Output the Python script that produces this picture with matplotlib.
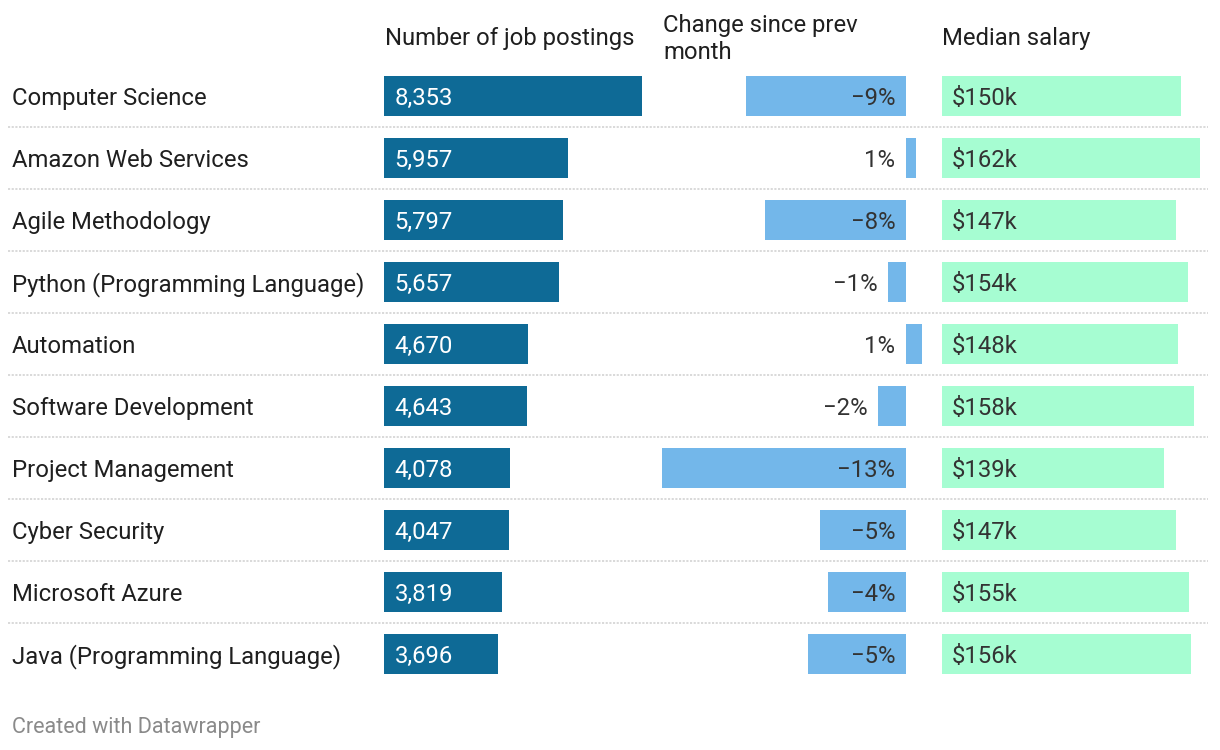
import matplotlib.pyplot as plt

plt.rcParams['font.family'] = ['Roboto', 'DejaVu Sans']

skills = ["Computer Science", "Amazon Web Services", "Agile Methodology",
          "Python (Programming Language)", "Automation", "Software Development",
          "Project Management", "Cyber Security", "Microsoft Azure",
          "Java (Programming Language)"]
postings = [8353, 5957, 5797, 5657, 4670, 4643, 4078, 4047, 3819, 3696]
# change since previous month, %, and shown labels
change = [-8.65, 0.55, -7.6, -0.97, 0.86, -1.5, -13.2, -4.65, -4.2, -5.3]
change_labels = ["−9%", "1%", "−8%", "−1%", "1%", "−2%", "−13%", "−5%", "−4%", "−5%"]
salary = [150, 162, 147, 154, 148, 158, 139, 147, 155, 156]

W, H = 1220, 750
dark_blue = "#0e6a96"
light_blue = "#73b7ea"
mint = "#a6fdd2"
text_col = "#1f1f1f"
fs = 17.2
dy = -2  # nudge labels down a bit (points)

fig = plt.figure(figsize=(W / 100, H / 100), dpi=100)

n = len(skills)
rows = list(range(n))
top_px, bot_px = 65, 685
bottom = (H - bot_px) / H
height = (bot_px - top_px) / H
bar_h = 40 / 62


def col_axes(left_px, width_px):
    ax = fig.add_axes([left_px / W, bottom, width_px / W, height])
    ax.set_ylim(n - 0.5, -0.5)
    ax.axis("off")
    return ax


# background: row labels and dotted separators
bg = col_axes(0, W)
bg.set_xlim(0, W)
bg.set_zorder(0)
for i in rows[:-1]:
    bg.axhline(i + 0.5, xmin=8 / W, xmax=1208 / W, color="#cfcfcf",
               lw=1.1, linestyle=(0, (1.4, 1.0)))
for i, s in enumerate(skills):
    bg.annotate(s, (12, i), xytext=(0, dy), textcoords="offset points",
                va="center", ha="left", fontsize=fs, color=text_col)

# column 1: job postings
ax1 = col_axes(384, 258)
ax1.set_xlim(0, max(postings))
ax1.barh(rows, postings, height=bar_h, color=dark_blue)
for i, v in enumerate(postings):
    ax1.annotate(f"{v:,}", (0, i), xytext=(7.6, dy), textcoords="offset points",
                 va="center", ha="left", fontsize=fs, color="white")

# column 2: change since previous month
scale2 = 18.5
zero_px = 906
ax2 = col_axes(640, 300)
ax2.set_xlim((640 - zero_px) / scale2, (940 - zero_px) / scale2)
ax2.barh(rows, change, height=bar_h, color=light_blue)
for i, (v, lab) in enumerate(zip(change, change_labels)):
    anchor = 0 if v < -3 else min(v, 0)
    ax2.annotate(lab, (anchor, i), xytext=(-7.8, dy), textcoords="offset points",
                 va="center", ha="right", fontsize=fs, color="#333333")

# column 3: median salary
scale3 = 1.595
ax3 = col_axes(942, 270)
ax3.set_xlim(0, 270 / scale3)
ax3.barh(rows, salary, height=bar_h, color=mint)
for i, v in enumerate(salary):
    ax3.annotate(f"${v}k", (0, i), xytext=(7.2, dy), textcoords="offset points",
                 va="center", ha="left", fontsize=fs, color="#333333")

# headers
hy = 1 - 39 / H
fig.text(385 / W, hy, "Number of job postings", va="center", ha="left",
         fontsize=fs, color=text_col)
fig.text(663 / W, hy, "Change since prev\nmonth", va="center", ha="left",
         fontsize=fs, color=text_col, linespacing=1.2)
fig.text(942 / W, hy, "Median salary", va="center", ha="left",
         fontsize=fs, color=text_col)

fig.text(12 / W, 1 - 727 / H, "Created with Datawrapper", va="center", ha="left",
         fontsize=15.5, color="#8a8a8a")

fig.savefig("out.png", dpi=100)
